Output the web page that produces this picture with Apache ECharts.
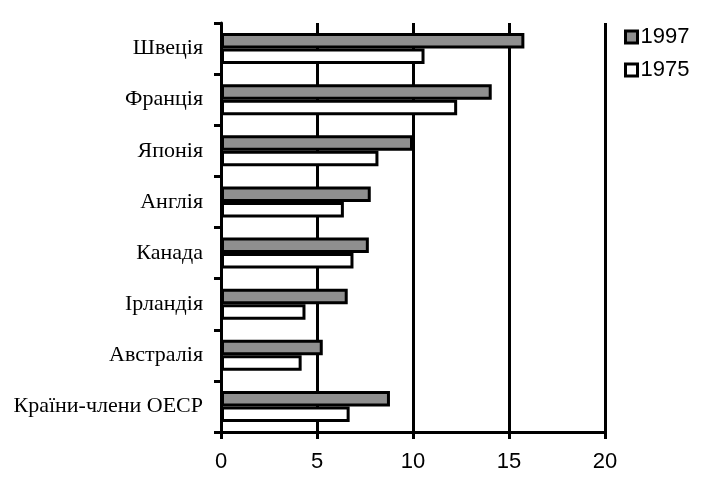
<!DOCTYPE html>
<html>
<head>
<meta charset="utf-8">
<script src="https://cdn.jsdelivr.net/npm/echarts@6/dist/echarts.min.js"></script>
<style>html,body{margin:0;padding:0;background:#fff}#c{width:709px;height:492px}</style>
</head>
<body>
<div id="c"></div>
<script>
const categories = ['Швеція', 'Франція', 'Японія', 'Англія', 'Канада', 'Ірландія', 'Австралія', 'Країни-члени ОЕСР'];
const values1997 = [15.8, 14.1, 10.0, 7.8, 7.7, 6.6, 5.3, 8.8];
const values1975 = [10.6, 12.3, 8.2, 6.4, 6.9, 4.4, 4.2, 6.7];
const xTicks = { min: 0, max: 20, interval: 5 };

const chart = echarts.init(document.getElementById('c'), null, { renderer: 'canvas' });
chart.setOption({
  animation: false,
  backgroundColor: '#fff',
  grid: { left: 221, right: 104, top: 23, bottom: 60 },
  legend: {
    orient: 'vertical', left: 619, top: 21, itemWidth: 12, itemHeight: 12, itemGap: 11,
    icon: 'rect',
    textStyle: { fontFamily: 'Liberation Sans', fontSize: 22, color: '#000', padding: [0, 0, 0, -2] },
    data: [
      { name: '1997', itemStyle: { color: '#8f8f8f', borderColor: '#000', borderWidth: 3 } },
      { name: '1975', itemStyle: { color: '#fff', borderColor: '#000', borderWidth: 3 } }
    ]
  },
  xAxis: {
    type: 'value', min: xTicks.min, max: xTicks.max, interval: xTicks.interval,
    axisLine: { show: true, lineStyle: { color: '#000', width: 3 } },
    axisTick: { show: true, length: 7, lineStyle: { color: '#000', width: 3 } },
    splitLine: { show: true, lineStyle: { color: '#000', width: 3 } },
    axisLabel: { fontFamily: 'Liberation Sans', fontSize: 22, color: '#000', margin: 19 }
  },
  yAxis: {
    type: 'category', data: categories, inverse: true,
    axisLine: { show: true, lineStyle: { color: '#000', width: 3 } },
    axisTick: { show: true, length: 7, lineStyle: { color: '#000', width: 3 } },
    axisLabel: { fontFamily: 'Liberation Serif', fontSize: 22, color: '#000', margin: 18, padding: [6, 0, 0, 0] }
  },
  series: [
    { name: '1997', type: 'bar', data: values1997, barWidth: 15.5, barGap: '0%',
      itemStyle: { color: '#8f8f8f', borderColor: '#000', borderWidth: 3 } },
    { name: '1975', type: 'bar', data: values1975, barWidth: 15.5, barGap: '0%',
      itemStyle: { color: '#fff', borderColor: '#000', borderWidth: 3 } }
  ]
});
</script>
</body>
</html>
